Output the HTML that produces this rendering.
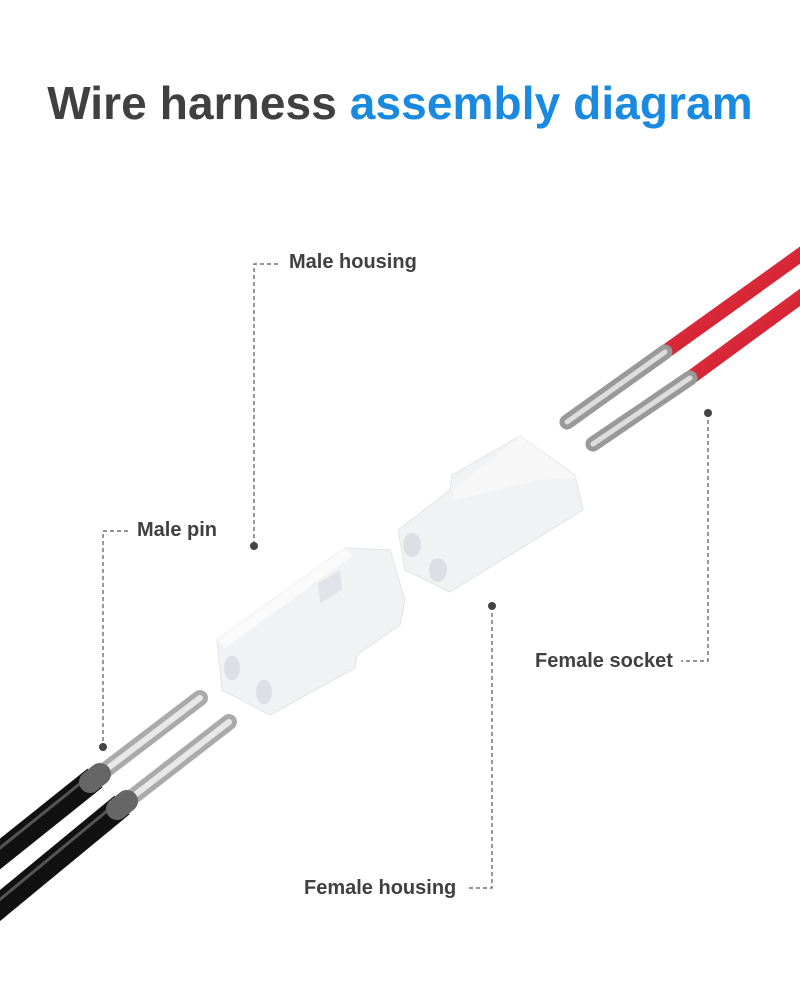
<!DOCTYPE html>
<html><head><style>
body{margin:0;width:800px;height:1008px;background:#fff;overflow:hidden;font-family:"Liberation Sans",sans-serif}
.t{position:absolute;top:76px;left:0;width:800px;text-align:center;font-weight:bold;font-size:46px;color:#404040;letter-spacing:0.1px}
.t span{color:#1a8ae0}
.l{position:absolute;font-weight:bold;font-size:20px;color:#404040}
</style></head><body>
<div class="t">Wire harness <span>assembly diagram</span></div>
<div class="l" style="left:289px;top:251px">Male housing</div>
<div class="l" style="left:137px;top:519px">Male pin</div>
<div class="l" style="left:535px;top:650px">Female socket</div>
<div class="l" style="left:304px;top:877px">Female housing</div>
<svg width="800" height="1008" style="position:absolute;left:0;top:0">
<defs>
<linearGradient id="rd" x1="0" y1="0" x2="1" y2="1"><stop offset="0" stop-color="#f04050"/><stop offset="1" stop-color="#c01020"/></linearGradient>
</defs>
<g stroke="#555" stroke-width="1.2" stroke-dasharray="4,3" fill="none">
<path d="M278 264H254V546"/><path d="M128 531H103V747"/><path d="M708 413V661H681"/><path d="M492 606V888H468"/>
</g>
<g fill="#444"><circle cx="254" cy="546" r="4"/><circle cx="103" cy="747" r="4"/><circle cx="708" cy="413" r="4"/><circle cx="492" cy="606" r="4"/></g>
<g stroke-linecap="butt">
<line x1="-20" y1="870" x2="95" y2="778" stroke="#111" stroke-width="24"/>
<line x1="-20" y1="922" x2="122" y2="805" stroke="#111" stroke-width="24"/>
<line x1="-20" y1="864" x2="92" y2="774" stroke="#555" stroke-width="3"/>
<line x1="-20" y1="916" x2="119" y2="801" stroke="#555" stroke-width="3"/>
</g>
<g stroke-linecap="round">
<line x1="95" y1="778" x2="200" y2="698" stroke="#aaa" stroke-width="16"/>
<line x1="122" y1="805" x2="229" y2="722" stroke="#aaa" stroke-width="16"/>
<line x1="95" y1="778" x2="200" y2="698" stroke="#e8e8e8" stroke-width="6"/>
<line x1="122" y1="805" x2="229" y2="722" stroke="#e8e8e8" stroke-width="6"/>
<line x1="90" y1="782" x2="100" y2="774" stroke="#666" stroke-width="22"/>
<line x1="117" y1="809" x2="127" y2="801" stroke="#666" stroke-width="22"/>
</g>
<line x1="810" y1="248" x2="665" y2="352" stroke="url(#rd)" stroke-width="14"/>
<line x1="810" y1="290" x2="690" y2="378" stroke="url(#rd)" stroke-width="14"/>
<g stroke-linecap="round">
<line x1="665" y1="352" x2="567" y2="422" stroke="#999" stroke-width="15"/>
<line x1="690" y1="378" x2="593" y2="444" stroke="#999" stroke-width="15"/>
<line x1="665" y1="352" x2="567" y2="422" stroke="#ddd" stroke-width="5"/>
<line x1="690" y1="378" x2="593" y2="444" stroke="#ddd" stroke-width="5"/>
</g>
<polygon points="217,640 345,548 390,550 405,600 400,625 357,655 355,668 270,715 222,690" fill="#f1f2f4" stroke="#e2e4e8"/>
<polygon points="217,640 345,548 352,556 225,648" fill="#fafafa"/>
<polygon points="318,583 340,570 342,590 320,603" fill="#e0e3e8"/>
<ellipse cx="232" cy="668" rx="8" ry="12" fill="#dcdfe4"/>
<ellipse cx="264" cy="692" rx="8" ry="12" fill="#dcdfe4"/>
<polygon points="398,530 450,490 452,475 520,436 575,475 583,510 450,592 405,570" fill="#f1f2f4" stroke="#e2e4e8"/>
<polygon points="452,490 520,436 578,478 540,480 455,500" fill="#f7f7f8"/>
<ellipse cx="412" cy="545" rx="9" ry="12" fill="#dcdfe4"/>
<ellipse cx="438" cy="570" rx="9" ry="12" fill="#dcdfe4"/>
</svg>
</body></html>
